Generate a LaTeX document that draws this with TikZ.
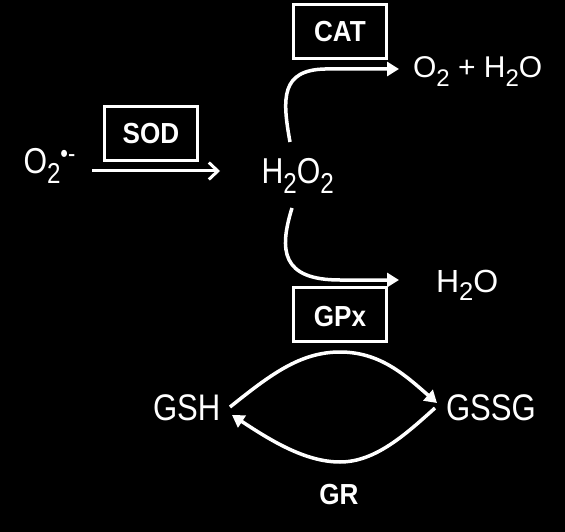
\documentclass[tikz,border=0pt]{standalone}
\usepackage{fontspec}
\setmainfont{Liberation Sans}
\newfontfamily\condf{Liberation Sans}[FakeStretch=0.84]
\newfontfamily\boldf{Liberation Sans}[FakeStretch=0.9]
\usetikzlibrary{arrows.meta}
\newcommand\chsub[1]{\raisebox{-0.28em}{\scalebox{0.8}{#1}}}
\begin{document}
\begin{tikzpicture}[x=1pt,y=-1pt,
  lbl/.style={text=white,inner sep=0pt,outer sep=0pt,anchor=base west},
  enz/.style={text=white,font=\boldf\bfseries\fontsize{29}{29}\selectfont,inner sep=0pt},
  enzbox/.style={draw=white,line width=3pt,minimum width=93pt,minimum height=54pt,inner sep=0pt},
  conn/.style={draw=white,line width=3.5pt,-{Triangle[length=12pt,width=14pt]}},
  flat/.style={draw=white,line width=3pt,-{Straight Barb[length=9pt,width=17pt,line width=3pt]}}]
\fill[black] (0,0) rectangle (565,532);
\useasboundingbox (0,0) rectangle (565,532);
% species
\node[lbl,font=\condf\fontsize{36}{36}\selectfont] (o2r) at (23.5,173)
  {O\chsub{2}\raisebox{10pt}{\fontsize{26}{26}\selectfont •-}};
\node[lbl,font=\condf\fontsize{36}{36}\selectfont] (h2o2) at (261.5,183) {H\chsub{2}O\chsub{2}};
\node[lbl,font=\fontsize{30}{30}\selectfont] (prodcat) at (413,78) {O\chsub{2} + H\chsub{2}O};
\node[lbl,font=\fontsize{32}{32}\selectfont] (prodgpx) at (436,292) {H\chsub{2}O};
\node[lbl,font=\condf\fontsize{37}{37}\selectfont] (gsh) at (153,420) {GSH};
\node[lbl,font=\condf\fontsize{37}{37}\selectfont] (gssg) at (446,420) {GSSG};
% enzymes
\node[enzbox] (sodbox) at (151,134) {};
\node[enz] (sod) at (sodbox.center) {SOD};
\node[enzbox] (catbox) at (340,31.5) {};
\node[enz] (cat) at (catbox.center) {CAT};
\node[enzbox] (gpxbox) at (340,314.5) {};
\node[enz] (gpx) at ([yshift=-2pt]gpxbox.center) {GPx};
\node[enz] (gr) at (339,495) {GR};
% connector ends
\coordinate (sodS) at (92,171);
\coordinate (sodE) at (220,171);
\coordinate (catS) at (290,142);
\coordinate (catE) at (399,69);
\coordinate (gpxS) at (292,208);
\coordinate (gpxE) at (399,280);
\coordinate (gshR) at (230,407);
\coordinate (gshRi) at (232,415);
\coordinate (gssgL) at (437,403);
\coordinate (gssgLi) at (435,408);
% connectors
\draw[flat] (sodS) -- (sodE);
\draw[conn] (catS) .. controls (282,98) and (281,70) .. (325,69) -- (catE);
\draw[conn] (gpxS) .. controls (279,250) and (281,280) .. (340,280) -- (gpxE);
\draw[conn] (gshR) .. controls (270,375) and (300,352) .. (340,352) .. controls (380,352) and (405,375) .. (gssgL);
\draw[conn] (gssgLi) .. controls (405,435) and (375,462) .. (340,462) .. controls (305,462) and (270,440) .. (gshRi);
\end{tikzpicture}
\end{document}
